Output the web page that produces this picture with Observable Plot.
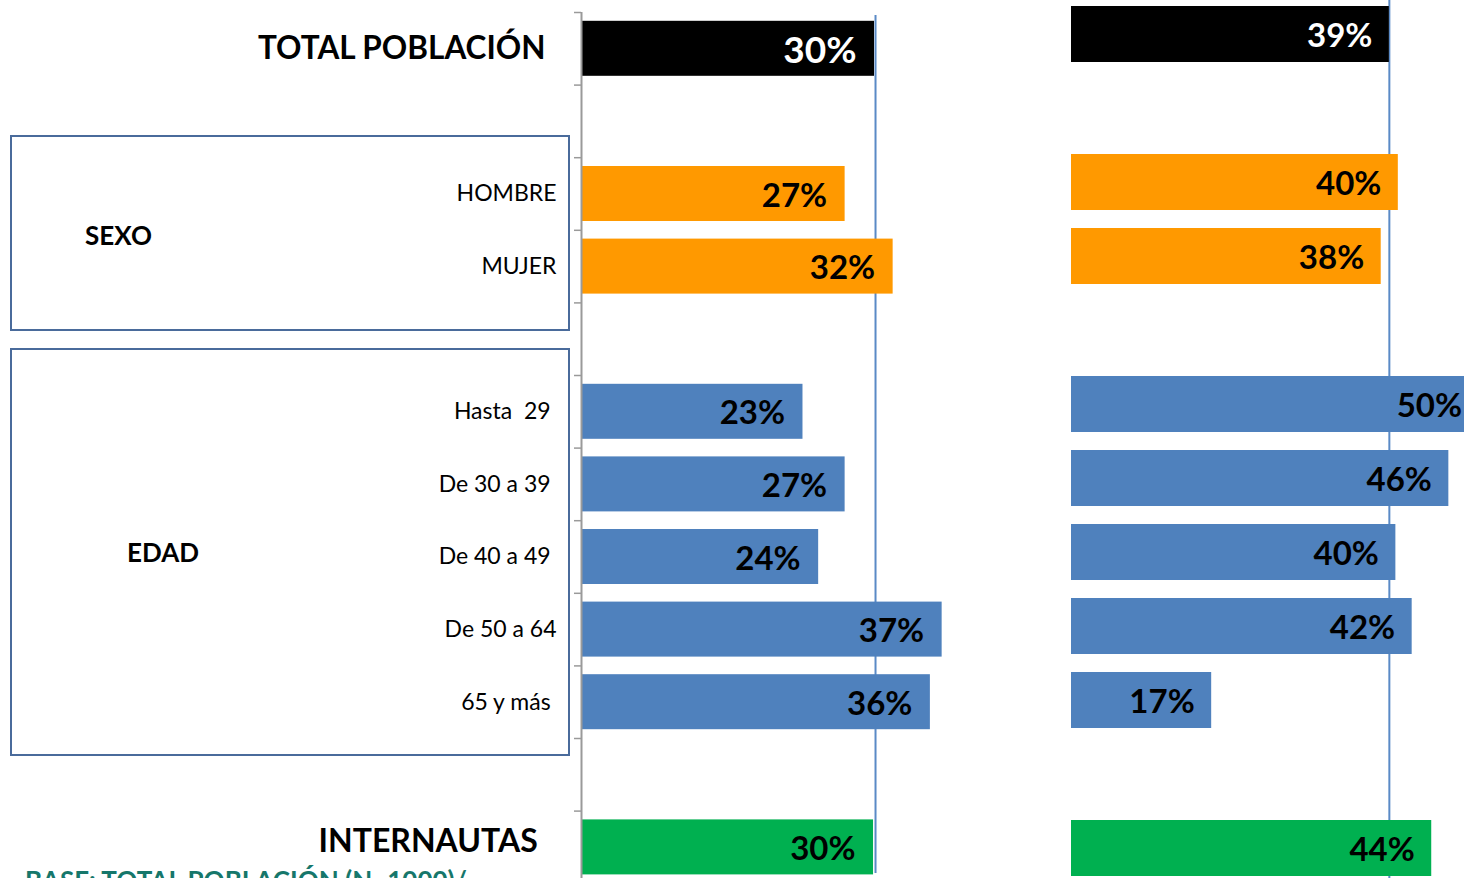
<!DOCTYPE html>
<html>
<head>
<meta charset="utf-8">
<script src="https://cdn.jsdelivr.net/npm/d3@7"></script>
<script src="https://cdn.jsdelivr.net/npm/@observablehq/plot@0.6"></script>
<style>
  html, body { margin: 0; padding: 0; background: #fff; }
  #wrap { position: relative; width: 1464px; height: 878px; overflow: hidden; font-family: Lato, "Open Sans", sans-serif; }
  .box { position: absolute; border: 2px solid #4A6B9B; box-sizing: border-box; }
  .grp { position: absolute; font-weight: bold; font-size: 26px; color: #000; line-height: 1; }
  #caption { position: absolute; left: 25px; top: 867px; font-weight: bold; font-size: 26px; color: #16776B; white-space: nowrap; line-height: 1; }
  .panel { position: absolute; top: 0; }
</style>
</head>
<body>
<div id="wrap">
  <div class="box" style="left:10px;top:135px;width:560px;height:196px;"></div>
  <div class="box" style="left:10px;top:348px;width:560px;height:408px;"></div>
  <div class="grp" style="left:85px;top:222px;">SEXO</div>
  <div class="grp" style="left:127px;top:539px;">EDAD</div>
  <div id="left" class="panel" style="left:0px;"></div>
  <div id="right" class="panel" style="left:1000px;"></div>
  <div id="caption">BASE: TOTAL POBLACIÓN (N=1000)/</div>
</div>
<script>
// ---- data ----
const rowKeys = ["total", "gap1", "hombre", "mujer", "gap2", "h29", "d3039", "d4049", "d5064", "d65", "gap3", "internautas"];
const rowLabels = ["TOTAL POBLACIÓN", "", "HOMBRE", "MUJER", "", "Hasta  29\u00a0", "De 30 a 39\u00a0", "De 40 a 49\u00a0", "De 50 a 64", "65 y más\u00a0", "", "INTERNAUTAS\u00a0"];
const rowBold = [true, false, false, false, false, false, false, false, false, false, false, true];

const barKeys = ["total", "hombre", "mujer", "h29", "d3039", "d4049", "d5064", "d65", "internautas"];
const barGroups = ["total", "sexo", "sexo", "edad", "edad", "edad", "edad", "edad", "internautas"];
const valuesLeft = [29.9, 26.9, 31.8, 22.6, 26.9, 24.2, 36.8, 35.6, 29.8];
const labelsLeft = ["30%", "27%", "32%", "23%", "27%", "24%", "37%", "36%", "30%"];
const valuesRight = [39.0, 40.1, 38.0, 50.0, 46.3, 39.8, 41.8, 17.2, 44.2];
const labelsRight = ["39%", "40%", "38%", "50%", "46%", "40%", "42%", "17%", "44%"];
const groupColors = {total: "#000000", sexo: "#FF9900", edad: "#4F81BD", internautas: "#00B050"};
const groupTextColors = {total: "#FFFFFF", sexo: "#000000", edad: "#000000", internautas: "#000000"};

// ---- tables ----
const rowsTable = rowKeys.map((k, i) => ({key: k, label: rowLabels[i], bold: rowBold[i]}));
const leftTable = barKeys.map((k, i) => ({key: k, group: barGroups[i], value: valuesLeft[i], label: labelsLeft[i]}));
const rightTable = barKeys.map((k, i) => ({key: k, group: barGroups[i], value: valuesRight[i], label: labelsRight[i]}));

const FONT = "Lato, 'Open Sans', sans-serif";

// ---- left panel ----
const leftStep = 72.6;
const left = Plot.plot({
  width: 1000,
  height: 878,
  marginTop: 15,
  marginBottom: 5,
  marginLeft: 581,
  marginRight: 27,
  style: {background: "transparent", fontFamily: FONT, overflow: "hidden", maxWidth: "none"},
  x: {domain: [0, 40], range: [581, 973], axis: null},
  y: {domain: rowKeys, range: [12, 12 + leftStep * rowKeys.length], padding: 0, round: false, axis: null, label: null},
  color: {type: "identity"},
  marks: [
    Plot.ruleX([valuesLeft[0]], {stroke: "#5A8AC6", strokeWidth: 2, dx: 1}),
    Plot.barX(leftTable, {x: "value", y: "key", fill: d => groupColors[d.group], insetTop: 8.8, insetBottom: 8.8}),
    Plot.ruleX([0], {stroke: "#9A9A9A", strokeWidth: 2, insetTop: -3, insetBottom: -5}),
    Plot.axisY({anchor: "left", tickSize: 7, tickFormat: () => "", dy: -leftStep / 2, stroke: "#9A9A9A", strokeWidth: 1.5, label: null}),
    Plot.text(rowsTable.filter(d => !d.bold), {y: "key", text: "label", frameAnchor: "left", textAnchor: "end", dx: -25, fontSize: 23, fill: "#000"}),
    Plot.text(rowsTable.filter(d => d.bold && d.key === "total"), {y: "key", text: "label", frameAnchor: "left", textAnchor: "end", dx: -36, fontSize: 31.5, fontWeight: "bold", fill: "#000"}),
    Plot.text(rowsTable.filter(d => d.bold && d.key !== "total"), {y: "key", text: "label", frameAnchor: "left", textAnchor: "end", dx: -36, dy: -6, fontSize: 32, fontWeight: "bold", fill: "#000"}),
    Plot.text(leftTable.filter(d => d.group === "total"), {x: "value", y: "key", text: "label", textAnchor: "end", dx: -18, dy: 2, fontSize: 37, fontWeight: "bold", fill: d => groupTextColors[d.group]}),
    Plot.text(leftTable.filter(d => d.group !== "total"), {x: "value", y: "key", text: "label", textAnchor: "end", dx: -18, dy: 2, fontSize: 33, fontWeight: "bold", fill: d => groupTextColors[d.group]})
  ]
});
document.getElementById("left").appendChild(left);

// ---- right panel ----
const rightStep = 74;
const right = Plot.plot({
  width: 464,
  height: 878,
  marginTop: 0,
  marginBottom: 0,
  marginLeft: 71,
  marginRight: 0,
  style: {background: "transparent", fontFamily: FONT, overflow: "hidden", maxWidth: "none"},
  x: {domain: [0, 50], range: [71, 71 + 8.15 * 50], axis: null},
  y: {domain: rowKeys, range: [-3, -3 + rightStep * rowKeys.length], padding: 0, round: false, axis: null, label: null},
  color: {type: "identity"},
  marks: [
    Plot.ruleX([valuesRight[0]], {stroke: "#5A8AC6", strokeWidth: 2}),
    Plot.barX(rightTable, {x: "value", y: "key", fill: d => groupColors[d.group], insetTop: 9, insetBottom: 9}),
    Plot.text(rightTable, {x: "value", y: "key", text: "label", textAnchor: "end", dx: -17, dy: 1.5, fontSize: 33, fontWeight: "bold", fill: d => groupTextColors[d.group]})
  ]
});
document.getElementById("right").appendChild(right);
</script>
</body>
</html>
